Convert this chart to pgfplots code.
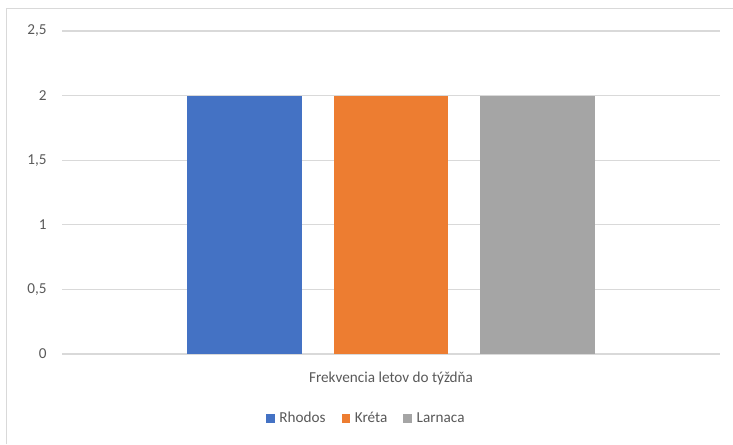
\documentclass[border=0pt]{standalone}
\usepackage{fontspec}
\setmainfont{Carlito}
\usepackage{pgfplots}
\pgfplotsset{compat=1.18}
\definecolor{cblue}{HTML}{4472C4}
\definecolor{corange}{HTML}{ED7D31}
\definecolor{cgray}{HTML}{A5A5A5}
\definecolor{gridc}{HTML}{D9D9D9}
\definecolor{txt}{HTML}{595959}
\begin{document}
\begin{tikzpicture}
\useasboundingbox (0pt,0pt) rectangle (549.75pt,333pt);
\draw[gridc, line width=0.9pt] (4.9pt,0pt) -- (4.9pt,326.6pt) -- (549.75pt,326.6pt);
\begin{axis}[
  at={(46.5pt,67.5pt)}, anchor=south west,
  scale only axis,
  width=493.5pt, height=242.25pt,
  xmin=-1, xmax=1,
  ymin=0, ymax=2.5,
  ytick={0,0.5,1,1.5,2,2.5},
  xtick={0}, xticklabels={Frekvencia letov do týždňa},
  major tick length=0pt,
  axis line style={draw=none},
  ymajorgrids, major grid style={gridc, line width=0.9pt},
  /pgf/number format/use comma,
  /pgf/number format/assume math mode=true,
  tick label style={font=\fontsize{11.4}{13}\selectfont, text=txt},
  yticklabel style={xshift=-8pt},
  xticklabel style={yshift=-10pt},
  legend style={at={(0.463,-0.20)}, anchor=center, draw=none, legend columns=3,
    font=\fontsize{11.4}{13}\selectfont, text=txt,
    /tikz/every odd column/.append style={column sep=1.5pt},
    /tikz/every even column/.append style={column sep=10pt}},
  legend image code/.code={\fill[#1] (0pt,-3.2pt) rectangle (6.5pt,3.3pt);},
  clip=false,
]
\addplot[ybar, bar width=0.3495, bar shift=-0.4453, fill=cblue, draw=none] coordinates {(0,2)};
\addlegendentry{Rhodos}
\addplot[ybar, bar width=0.3495, bar shift=0, fill=corange, draw=none] coordinates {(0,2)};
\addlegendentry{Kréta}
\addplot[ybar, bar width=0.3495, bar shift=0.4453, fill=cgray, draw=none] coordinates {(0,2)};
\addlegendentry{Larnaca}
\end{axis}
\end{tikzpicture}
\end{document}
